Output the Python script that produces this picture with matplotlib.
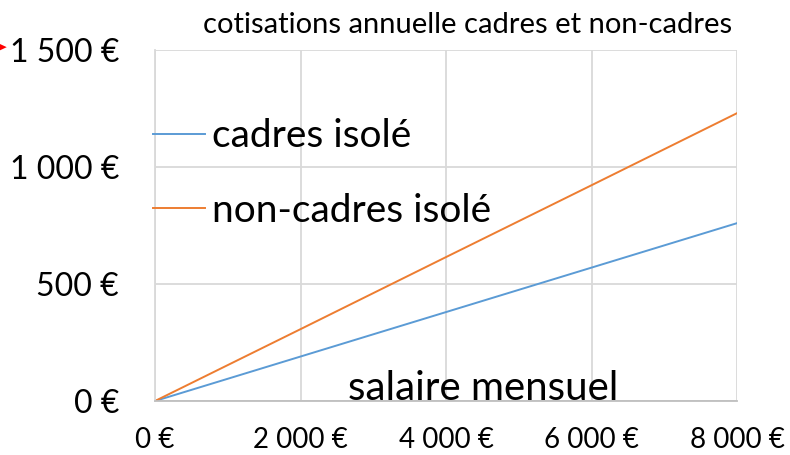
import matplotlib
matplotlib.use("Agg")
import matplotlib.pyplot as plt

plt.rcParams['font.family'] = ['Lato', 'DejaVu Sans']

salaire = [0, 2000, 4000, 6000, 8000]
cadres = [0, 190, 380, 570, 760]
non_cadres = [0, 307, 615, 922, 1230]
series_labels = ["cadres isolé", "non-cadres isolé"]
xticks = [0, 2000, 4000, 6000, 8000]
xtick_labels = ["0 €", "2 000 €", "4 000 €", "6 000 €", "8 000 €"]
yticks = [0, 500, 1000, 1500]
ytick_labels = ["0 €", "500 €", "1 000 €", "1 500 €"]
title = "cotisations annuelle cadres et non-cadres"
xlabel = "salaire mensuel"

fig = plt.figure(figsize=(7.9, 4.55), dpi=100)
ax = fig.add_axes([155/790, 1-401/455, (737-155)/790, (401-50)/455])

ax.plot(salaire, cadres, color='#5b9bd5', lw=1.4, label=series_labels[0])
ax.plot(salaire, non_cadres, color='#ed7d31', lw=1.4, label=series_labels[1])

ax.set_xlim(0, 8000)
ax.set_ylim(0, 1500)
ax.set_xticks(xticks)
ax.set_xticklabels(xtick_labels, fontsize=20)
ax.set_yticks(yticks)
ax.set_yticklabels(ytick_labels, fontsize=23)
ax.tick_params(length=0)
ax.tick_params(axis='x', pad=19)
ax.tick_params(axis='y', pad=26)
ax.grid(True, color='#d9d9d9', lw=1.3)
ax.set_axisbelow(True)
for s in ['top', 'right']:
    ax.spines[s].set_visible(False)
ax.spines['left'].set_color('#d9d9d9')
ax.spines['left'].set_linewidth(1.3)
ax.spines['bottom'].set_color('#bfbfbf')
ax.spines['bottom'].set_linewidth(1.3)

leg = ax.legend(loc='upper left', bbox_to_anchor=(-0.003, 0.805), frameon=False,
                fontsize=28, handlelength=1.33, handletextpad=0.18, labelspacing=0.98,
                borderaxespad=0, borderpad=0)

ax.text(483/790, 1-388/455, xlabel, transform=fig.transFigure, ha='center', va='center', fontsize=29)
fig.text(468/790, 1-25/455, title, ha='center', va='center', fontsize=21)
fig.text(-0.004, 1-48/455, "➤", color='red', ha='center', va='center', fontsize=18,
         family=['DejaVu Sans'])

fig.savefig('out.png', dpi=100)
